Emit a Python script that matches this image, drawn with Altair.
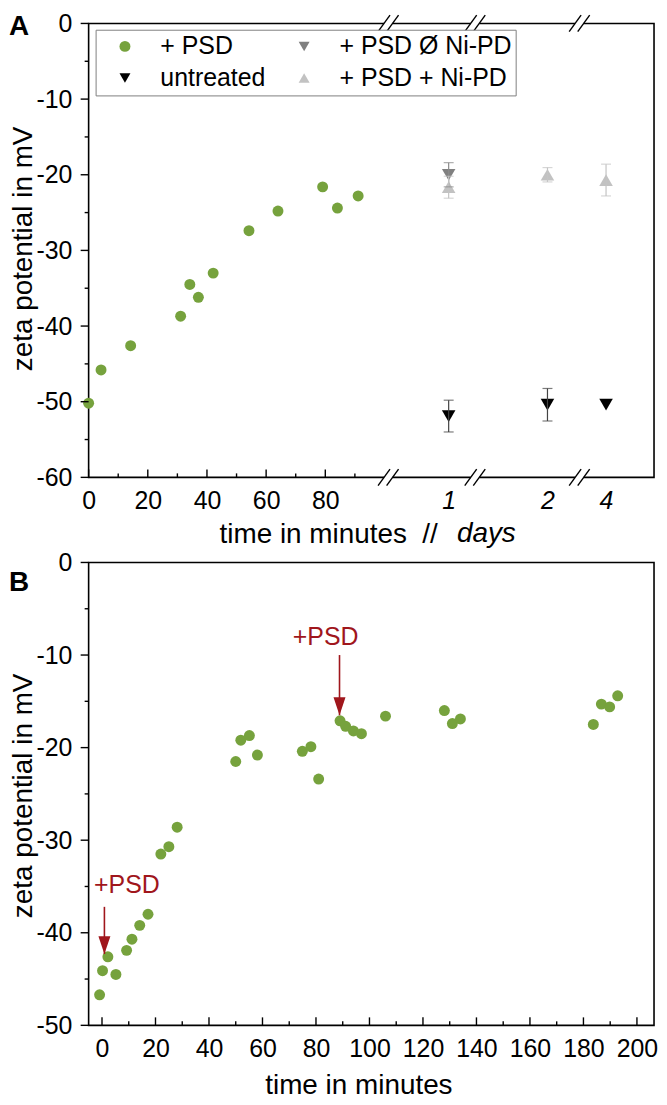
import altair as alt
import pandas as pd

FONT = "Liberation Sans"
GREEN = "#76a23d"
RED = "#a0161c"
S_PSD, S_NONI, S_UNT, S_NI = "+ PSD", "+ PSD Ø Ni-PD", "untreated", "+ PSD + Ni-PD"

# ---------------- Panel A data ----------------
a_psd_min = [0, 4.2, 14.2, 31.1, 34.2, 37.1, 42.1, 54.2, 64.0, 79.1, 84.1, 91.1]
a_psd_zeta = [-50.2, -45.8, -42.6, -38.7, -34.5, -36.2, -33.0, -27.4, -24.8, -21.6, -24.4, -22.8]
unt_days = [1, 2, 4]
unt_zeta = [-51.9, -50.4, -50.4]
unt_sd = [2.1, 2.15, 0.0]
noni_days = [1]
noni_zeta = [-20.0]
noni_sd = [1.6]
ni_days = [1, 2, 4]
ni_zeta = [-21.65, -20.0, -20.7]
ni_sd = [1.45, 0.95, 2.1]
minute_ticks = [0, 20, 40, 60, 80]
minute_minor = [10, 30, 50, 70, 90]

# broken axis: day slots and break marks, in minute-equivalent units
day_slot = {1: 121.7, 2: 155.1, 4: 174.9}
break_pos = [101.3, 130.6, 165.9]
A_YMIN = -60

# ---------------- Panel B data ----------------
b_min = [-0.9, 0.2, 2.2, 5.2, 9.2, 11.2, 14.1, 17.2, 22.0, 25.0, 28.1, 50.0, 51.9, 55.1, 58.1,
         74.9, 78.1, 81.0, 89.0, 91.1, 94.0, 97.0, 106.0, 128.0, 131.0, 134.0, 183.7, 186.7,
         189.8, 192.8]
b_zeta = [-46.7, -44.1, -42.6, -44.5, -41.9, -40.7, -39.2, -38.0, -31.5, -30.7, -28.6, -21.5,
          -19.2, -18.7, -20.8, -20.4, -19.9, -23.4, -17.1, -17.7, -18.2, -18.5, -16.6, -16.0,
          -17.4, -16.9, -17.5, -15.3, -15.6, -14.4]
arrow_min = [0.9, 88.8]
arrow_from = [-37.2, -10.0]
arrow_tip = [-42.3, -16.5]
note_min = [9.3, 83.6]
note_zeta = [-34.8, -8.1]
note_text = ["+PSD", "+PSD"]
b_ticks = list(range(0, 201, 20))
b_minor = list(range(10, 200, 20))
B_XMIN, B_YMIN = -5, -50

# ---------------- layout ----------------
WA, HA = 568, 456
WB, HB = 568, 465
A_XMAX = WA / 2.972            # keep the minute spacing, trim the right margin
B_XMAX = B_XMIN + WB / 2.687
kxA, kyA = WA / A_XMAX, HA / (0 - A_YMIN)
kxB, kyB = WB / (B_XMAX - B_XMIN), HB / (0 - B_YMIN)
MAJ, MIN_ = 8, 4
U = alt.Undefined

# legend fills column by column
series_dom = [S_PSD, S_UNT, S_NONI, S_NI]
series_col = [GREEN, "#000000", "#808080", "#c2c2c2"]
series_shape = ["circle", "triangle-down", "triangle-down", "triangle-up"]
series_size = {S_PSD: 121, S_NONI: 185, S_UNT: 185, S_NI: 185}
err_col = {S_NONI: "#8a8a8a", S_UNT: "#444444", S_NI: "#c4c4c4"}

legend = alt.Legend(title=None, orient="none", legendX=7, legendY=6.3, columns=2,
                    labelFontSize=25, labelFont=FONT, labelColor="black", labelLimit=400,
                    symbolSize=121, symbolStrokeWidth=0, strokeColor="#7f7f7f",
                    fillColor="white", padding=4, rowPadding=6, columnPadding=13,
                    labelOffset=23, symbolOffset=13)


def ytick_df(ymin, xmin, kx):
    rows = []
    for v in range(ymin, 1, 5):
        ln = MAJ if v % 10 == 0 else MIN_
        rows.append({"x": xmin, "x2": xmin - ln / kx, "y": v})
    return pd.DataFrame(rows)


def xtick_df(major, minor, ymin, ky):
    rows = [{"x": v, "y": ymin, "y2": ymin + MAJ / ky} for v in major]
    rows += [{"x": v, "y": ymin, "y2": ymin + MIN_ / ky} for v in minor]
    return pd.DataFrame(rows)


# ---------------- Panel A ----------------
sxA = alt.Scale(domain=[0, A_XMAX], nice=False, zero=False)
syA = alt.Scale(domain=[A_YMIN, 0], nice=False, zero=False)

pts = [{"x": m, "y": z, "series": S_PSD} for m, z in zip(a_psd_min, a_psd_zeta)]
pts += [{"x": day_slot[d], "y": z, "series": S_UNT} for d, z in zip(unt_days, unt_zeta)]
pts += [{"x": day_slot[d], "y": z, "series": S_NONI} for d, z in zip(noni_days, noni_zeta)]
pts += [{"x": day_slot[d], "y": z, "series": S_NI} for d, z in zip(ni_days, ni_zeta)]
ptsA = pd.DataFrame(pts)
ptsA["size"] = ptsA["series"].map(series_size)

errs = []
for s, dd, zz, sd in [(S_UNT, unt_days, unt_zeta, unt_sd), (S_NONI, noni_days, noni_zeta, noni_sd),
                      (S_NI, ni_days, ni_zeta, ni_sd)]:
    for d, z, e in zip(dd, zz, sd):
        if e > 0:
            errs.append({"x": day_slot[d], "y": z - e, "y2": z + e, "ec": err_col[s]})
errA = pd.DataFrame(errs)
capA = pd.concat([errA.assign(y=errA["y"]), errA.assign(y=errA["y2"])])

label_vals = minute_ticks + [day_slot[d] for d in unt_days]
lab_expr = "datum.value < 100 ? '' + datum.value : " + " : ".join(
    f"(abs(datum.value - {day_slot[d]}) < 1 ? '{d}'" for d in unt_days) + " : ''" + ")" * len(unt_days)

xaxA = alt.Axis(values=label_vals, labelExpr=lab_expr, ticks=False, domain=False, grid=False,
                labelFontSize=25, labelPadding=11.5, labelFlush=False, labelOverlap=False,
                labelFontStyle={"condition": {"test": "datum.value > 100", "value": "italic"},
                                "value": "normal"},
                title="time in minutes\u00a0\u00a0//", titleFontSize=28, titleFontWeight="normal",
                titleAlign="left", titleX=131, titleY=65.3, titleBaseline="alphabetic")
yaxA = alt.Axis(values=list(range(A_YMIN, 1, 10)), labelExpr="'' + datum.value", ticks=False,
                domain=False, grid=False, labelFontSize=25, labelPadding=16.8,
                title="zeta potential in mV", titleFontSize=28, titleFontWeight="normal",
                titleAngle=270, titleAlign="center", titleBaseline="middle", titleX=-65, titleY=226)

XA = lambda ax=U: alt.X("x:Q", scale=sxA, axis=ax)
YA = lambda ax=U: alt.Y("y:Q", scale=syA, axis=ax)

points_A = alt.Chart(ptsA).mark_point(filled=True, opacity=1, strokeWidth=0).encode(
    x=XA(xaxA), y=YA(yaxA),
    color=alt.Color("series:N", scale=alt.Scale(domain=series_dom, range=series_col), legend=legend),
    shape=alt.Shape("series:N", scale=alt.Scale(domain=series_dom, range=series_shape), legend=legend),
    size=alt.Size("size:Q", scale=None))
err_rules = alt.Chart(errA).mark_rule(strokeWidth=1.2).encode(
    x=XA(), y=YA(), y2="y2", color=alt.Color("ec:N", scale=None))
err_caps = alt.Chart(capA).mark_tick(orient="horizontal", size=10, thickness=1.2).encode(
    x=XA(), y=YA(), color=alt.Color("ec:N", scale=None))

yticksA = alt.Chart(ytick_df(A_YMIN, 0, kxA)).mark_rule(color="black", strokeWidth=1.4).encode(
    x=XA(), x2="x2", y=YA())
xticksA = alt.Chart(xtick_df(minute_ticks, minute_minor, A_YMIN, kyA)).mark_rule(
    color="black", strokeWidth=1.4).encode(x=XA(), y=YA(), y2="y2")

gaps, slashes = [], []
for b in break_pos:
    for y0 in [0, A_YMIN]:
        gaps.append({"x": b - 4.3 / kxA, "x2": b + 4.3 / kxA, "y": y0})
        for s in (-1, 1):
            c = b + s * 4.3 / kxA
            slashes.append({"x": c - 6 / kxA, "x2": c + 6 / kxA,
                            "y": y0 - 8.3 / kyA, "y2": y0 + 8.3 / kyA})
gapA = alt.Chart(pd.DataFrame(gaps)).mark_rule(color="white", strokeWidth=5).encode(
    x=XA(), x2="x2", y=YA())
slashA = alt.Chart(pd.DataFrame(slashes)).mark_rule(color="black", strokeWidth=1.4).encode(
    x=XA(), x2="x2", y=YA(), y2="y2")

days_txt = alt.Chart(pd.DataFrame({"t": ["days"]})).mark_text(
    fontSize=28, fontStyle="italic", align="left", baseline="alphabetic", color="black").encode(
    text="t:N", x=alt.value(370), y=alt.value(521.3))
tagA = alt.Chart(pd.DataFrame({"t": ["A"]})).mark_text(
    fontSize=28, fontWeight="bold", align="left", baseline="alphabetic", color="black").encode(
    text="t:N", x=alt.value(-80), y=alt.value(11.8))

panel_a = alt.layer(points_A, err_rules, err_caps, yticksA, xticksA, gapA, slashA, days_txt, tagA
                    ).properties(width=WA, height=HA)

# ---------------- Panel B ----------------
sxB = alt.Scale(domain=[B_XMIN, B_XMAX], nice=False, zero=False)
syB = alt.Scale(domain=[B_YMIN, 0], nice=False, zero=False)
XB = lambda ax=U: alt.X("x:Q", scale=sxB, axis=ax)
YB = lambda ax=U: alt.Y("y:Q", scale=syB, axis=ax)

xaxB = alt.Axis(values=b_ticks, labelExpr="'' + datum.value", ticks=False, domain=False, grid=False,
                labelFontSize=25, labelPadding=11.5, labelFlush=False, labelOverlap=False,
                title="time in minutes", titleFontSize=28, titleFontWeight="normal",
                titleAlign="center", titleX=271, titleY=68.4, titleBaseline="alphabetic")
yaxB = alt.Axis(values=list(range(B_YMIN, 1, 10)), labelExpr="'' + datum.value", ticks=False,
                domain=False, grid=False, labelFontSize=25, labelPadding=16.8,
                title="zeta potential in mV", titleFontSize=28, titleFontWeight="normal",
                titleAngle=270, titleAlign="center", titleBaseline="middle", titleX=-65, titleY=234)

ptsB = pd.DataFrame({"x": b_min, "y": b_zeta})
points_B = alt.Chart(ptsB).mark_point(filled=True, opacity=1, strokeWidth=0, size=121,
                                      color=GREEN, shape="circle").encode(x=XB(xaxB), y=YB(yaxB))
yticksB = alt.Chart(ytick_df(B_YMIN, B_XMIN, kxB)).mark_rule(color="black", strokeWidth=1.4).encode(
    x=XB(), x2="x2", y=YB())
xticksB = alt.Chart(xtick_df(b_ticks, b_minor, B_YMIN, kyB)).mark_rule(
    color="black", strokeWidth=1.4).encode(x=XB(), y=YB(), y2="y2")

arr = pd.DataFrame({"x": arrow_min, "y": arrow_from, "y2": arrow_tip})
arrow_line = alt.Chart(arr).mark_rule(color=RED, strokeWidth=1.6).encode(x=XB(), y=YB(), y2="y2")
arrow_head = alt.Chart(pd.DataFrame({"x": arrow_min, "y": arrow_tip})).mark_point(
    shape="M-0.67,-2L0.67,-2L0,0Z", size=324, filled=True, opacity=1, color=RED, strokeWidth=0
).encode(x=XB(), y=YB())
notes = alt.Chart(pd.DataFrame({"x": note_min, "y": note_zeta, "t": note_text})).mark_text(
    fontSize=25, color=RED, align="center", baseline="middle").encode(x=XB(), y=YB(), text="t:N")
tagB = alt.Chart(pd.DataFrame({"t": ["B"]})).mark_text(
    fontSize=28, fontWeight="bold", align="left", baseline="alphabetic", color="black").encode(
    text="t:N", x=alt.value(-80), y=alt.value(28.2))

panel_b = alt.layer(points_B, yticksB, xticksB, arrow_line, arrow_head, notes, tagB
                    ).properties(width=WB, height=HB)

chart = alt.vconcat(panel_a, panel_b, spacing=85.5, bounds="flush").properties(
    padding={"left": 0, "top": 0, "right": 0, "bottom": 0},
).configure(font=FONT).configure_view(stroke="black", strokeWidth=1.6).configure_axis(
    labelColor="black", titleColor="black")

chart.save("out.html", embed_options={"renderer": "svg", "actions": False})
